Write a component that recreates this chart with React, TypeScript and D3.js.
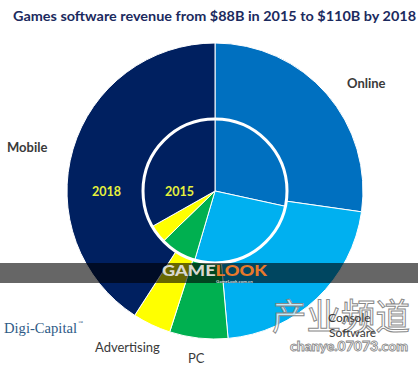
import React, { useEffect, useRef } from "react";
import * as d3 from "d3";

const width = 418;
const height = 370;
const center = { x: 215, y: 191 };
const innerR = 72;
const outerR = 148;

const categories = ["Online", "Console Software", "PC", "Advertising", "Mobile"];
const revenue2015 = [25, 23, 7.2, 3.6, 29.2];
const revenue2018 = [30, 23.5, 7, 4.6, 45];
const colors = ["#0070C0", "#00B0F0", "#00B050", "#FFFF00", "#002060"];
const title = "Games software revenue from $88B in 2015 to $110B by 2018";

export default function App() {
  const ref = useRef<SVGSVGElement>(null);

  useEffect(() => {
    const svg = d3.select(ref.current);
    svg.selectAll("*").remove();

    svg.append("rect").attr("width", width).attr("height", height).attr("fill", "#fff");

    svg
      .append("text")
      .attr("x", 13)
      .attr("y", 21)
      .attr("font-family", "Lato, sans-serif")
      .attr("font-weight", "bold")
      .attr("font-size", 14)
      .attr("fill", "#1B2A5E")
      .attr("textLength", 403)
      .attr("lengthAdjust", "spacingAndGlyphs")
      .text(title);

    const color = d3.scaleOrdinal<string, string>().domain(categories).range(colors);
    const pie = d3.pie<number>().sort(null).value((d) => d);
    const g = svg.append("g").attr("transform", `translate(${center.x},${center.y})`);

    const outerArc = d3.arc<d3.PieArcDatum<number>>().innerRadius(innerR).outerRadius(outerR);
    const innerArc = d3.arc<d3.PieArcDatum<number>>().innerRadius(0).outerRadius(innerR);

    // 2018 ring
    g.selectAll("path.y2018")
      .data(pie(revenue2018))
      .join("path")
      .attr("class", "y2018")
      .attr("d", outerArc)
      .attr("fill", (d, i) => color(categories[i]))
      .attr("stroke", "#fff")
      .attr("stroke-width", 1);

    // 2015 inner pie
    g.selectAll("path.y2015")
      .data(pie(revenue2015))
      .join("path")
      .attr("class", "y2015")
      .attr("d", innerArc)
      .attr("fill", (d, i) => color(categories[i]))
      .attr("stroke", "#fff")
      .attr("stroke-width", 1);

    g.append("circle").attr("r", innerR).attr("fill", "none").attr("stroke", "#fff").attr("stroke-width", 3);

    const yearText = (x: number, t: string) =>
      svg
        .append("text")
        .attr("x", x)
        .attr("y", 196)
        .attr("font-family", "Lato, sans-serif")
        .attr("font-weight", "bold")
        .attr("font-size", 12.5)
        .attr("fill", "#E6F03C")
        .text(t);
    yearText(92, "2018");
    yearText(165, "2015");

    const label = (x: number, y: number, t: string, size = 13) =>
      svg
        .append("text")
        .attr("x", x)
        .attr("y", y)
        .attr("font-family", "Lato, sans-serif")
        .attr("font-size", size)
        .attr("fill", "#3A3A3A")
        .text(t);
    label(347, 88, "Online").attr("font-weight", "bold");
    label(7, 152, "Mobile").attr("font-weight", "bold");
    label(95, 352, "Advertising");
    label(188, 363, "PC");

    svg
      .append("text")
      .attr("x", 4)
      .attr("y", 333)
      .attr("font-family", "Liberation Serif, serif")
      .attr("font-size", 14)
      .attr("fill", "#2E5A86")
      .attr("textLength", 73)
      .attr("lengthAdjust", "spacingAndGlyphs")
      .text("Digi-Capital");
    svg
      .append("text")
      .attr("x", 78)
      .attr("y", 324)
      .attr("font-family", "Liberation Serif, serif")
      .attr("font-size", 5)
      .attr("fill", "#2E5A86")
      .text("™");

    // watermark band
    svg.append("rect").attr("x", 0).attr("y", 263).attr("width", width).attr("height", 20).attr("fill", "#000").attr("opacity", 0.6);
    const wm = svg
      .append("text")
      .attr("x", 162)
      .attr("y", 276)
      .attr("font-family", "Lato, sans-serif")
      .attr("font-weight", "900")
      .attr("font-size", 15)
      .attr("textLength", 105)
      .attr("lengthAdjust", "spacingAndGlyphs");
    wm.append("tspan").attr("fill", "#D8D8D0").text("GAME");
    wm.append("tspan").attr("fill", "#E8792A").text("LOOK");
    svg
      .append("text")
      .attr("x", 216)
      .attr("y", 282.5)
      .attr("font-family", "Lato, sans-serif")
      .attr("font-weight", "bold")
      .attr("font-size", 4.5)
      .attr("fill", "#ddd")
      .text("GameLook.com.cn");

    svg
      .append("text")
      .attr("x", 272)
      .attr("y", 330)
      .attr("font-family", "Noto Sans CJK SC, sans-serif")
      .attr("font-size", 36)
      .attr("fill", "#fff")
      .attr("fill-opacity", 0.75)
      .attr("stroke", "#888")
      .attr("stroke-width", 1)
      .attr("textLength", 138)
      .attr("lengthAdjust", "spacingAndGlyphs")
      .text("产业频道");
    svg
      .append("text")
      .attr("x", 290)
      .attr("y", 351)
      .attr("font-family", "Lato, sans-serif")
      .attr("font-weight", "900")
      .attr("font-size", 13)
      .attr("fill", "#fff")
      .attr("stroke", "#888")
      .attr("stroke-width", 0.8)
      .attr("textLength", 118)
      .attr("lengthAdjust", "spacingAndGlyphs")
      .text("chanye.07073.com");

    // label sits under the watermark in the reference, kept readable here
    label(328, 322, "Console", 12);
    label(329, 337, "Software", 12);
  }, []);

  return <svg ref={ref} width={width} height={height} style={{ position: "absolute", left: 0, top: 0 }} />;
}
